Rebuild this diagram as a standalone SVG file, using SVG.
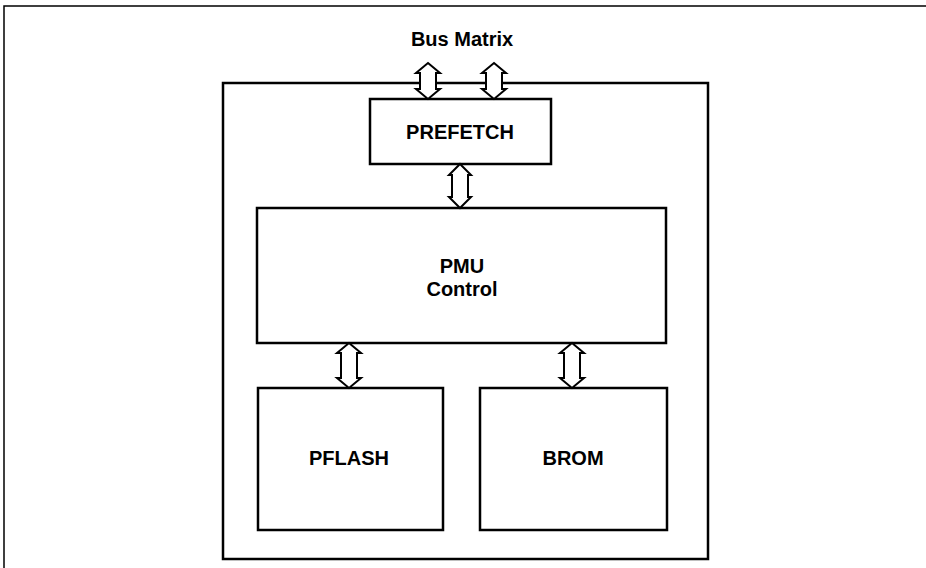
<svg xmlns="http://www.w3.org/2000/svg" width="926" height="568" viewBox="0 0 926 568">
<style>
.box{fill:none;stroke:#000;stroke-width:2.5}
.frame{fill:none;stroke:#000;stroke-width:1.5}
.arr{fill:#fff;stroke:#000;stroke-width:2;stroke-linejoin:miter}
.t{font-family:"Liberation Sans",Arial,sans-serif;font-weight:bold;font-size:20px;fill:#000;text-anchor:middle}
</style>
<rect width="926" height="568" fill="#fff"/>
<path class="frame" d="M4 568 V6 H926"/>
<g id="system">
<rect class="box" x="223" y="83" width="485" height="476"/>
</g>
<g id="bus-matrix">
<text class="t" x="462" y="46">Bus Matrix</text>
</g>
<g id="prefetch">
<rect class="box" x="370" y="99" width="181" height="65"/>
<text class="t" x="460" y="139">PREFETCH</text>
</g>
<g id="pmu-control">
<rect class="box" x="257" y="208" width="409" height="135"/>
<text class="t" x="462" y="273">PMU</text>
<text class="t" x="462" y="296">Control</text>
</g>
<g id="pflash">
<rect class="box" x="258" y="388" width="185" height="142"/>
<text class="t" x="349" y="465">PFLASH</text>
</g>
<g id="brom">
<rect class="box" x="480" y="388" width="187" height="142"/>
<text class="t" x="573" y="465">BROM</text>
</g>
<g id="connectors">
<polygon class="arr" points="428,63 440,73 436,73 436,89 440,89 428,99 416,89 420,89 420,73 416,73"/>
<polygon class="arr" points="494,63 506,73 502,73 502,89 506,89 494,99 482,89 486,89 486,73 482,73"/>
<polygon class="arr" points="460,164 471,175 468,175 468,197 471,197 460,208 449,197 452,197 452,175 449,175"/>
<polygon class="arr" points="349,343 361,353 357,353 357,378 361,378 349,388 337,378 341,378 341,353 337,353"/>
<polygon class="arr" points="572,343 584,353 580,353 580,378 584,378 572,388 560,378 564,378 564,353 560,353"/>
</g>
</svg>
